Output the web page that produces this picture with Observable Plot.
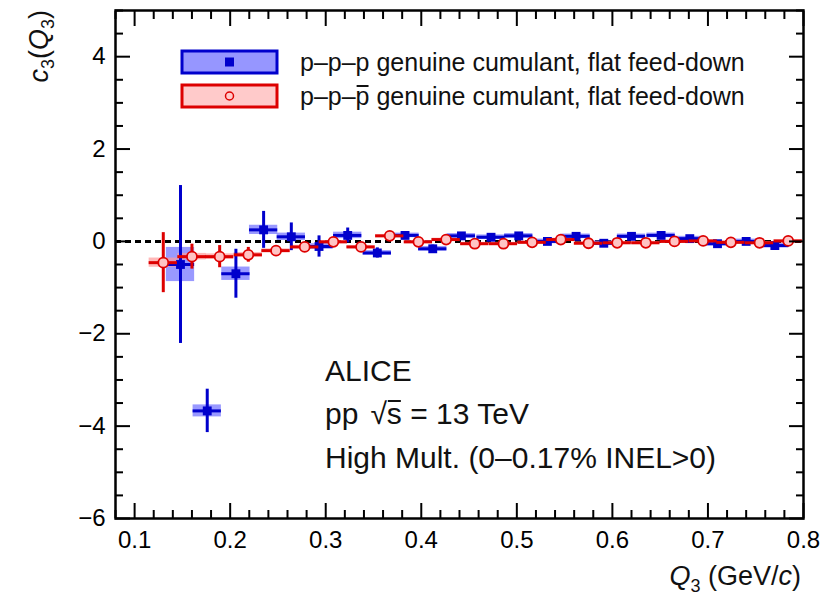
<!DOCTYPE html>
<html><head><meta charset="utf-8">
<script src="https://cdn.jsdelivr.net/npm/d3@7"></script>
<script src="https://cdn.jsdelivr.net/npm/@observablehq/plot@0.6"></script>
<style>
html,body{margin:0;padding:0;background:#fff;}
#chart{position:relative;width:825px;height:595px;}
</style></head><body><div id="chart"></div>
<script>
// ---- data ----
const qBlue = [0.148, 0.176, 0.206, 0.235, 0.264, 0.293, 0.323, 0.354, 0.383, 0.412, 0.442, 0.473, 0.502, 0.532, 0.562, 0.591, 0.620, 0.651, 0.681, 0.710, 0.740, 0.770];
const cBlue = [-0.50, -3.67, -0.70, 0.25, 0.10, -0.11, 0.13, -0.25, 0.13, -0.16, 0.12, 0.09, 0.12, 0.00, 0.11, -0.04, 0.11, 0.13, 0.06, -0.05, 0.00, -0.09];
const statBlue = [1.71, 0.47, 0.53, 0.40, 0.30, 0.23, 0.16, 0.11, 0.07, 0.08, 0.06, 0.05, 0.05, 0.05, 0.05, 0.05, 0.05, 0.05, 0.05, 0.04, 0.04, 0.04];
const sysBlue = [0.37, 0.13, 0.145, 0.10, 0.08, 0.06, 0.07, 0.05, 0.05, 0.05, 0.05, 0.05, 0.05, 0.05, 0.05, 0.05, 0.05, 0.05, 0.05, 0.05, 0.05, 0.05];

const qRed = [0.130, 0.160, 0.189, 0.219, 0.248, 0.278, 0.308, 0.337, 0.367, 0.397, 0.426, 0.456, 0.486, 0.516, 0.546, 0.575, 0.605, 0.635, 0.665, 0.695, 0.724, 0.754, 0.784];
const cRed = [-0.46, -0.33, -0.33, -0.29, -0.20, -0.12, -0.01, -0.12, 0.12, -0.01, 0.04, -0.05, -0.05, -0.02, 0.04, -0.04, -0.03, -0.03, 0.00, 0.01, -0.02, -0.03, 0.01];
const statRed = [0.65, 0.27, 0.24, 0.16, 0.10, 0.06, 0.05, 0.04, 0.04, 0.03, 0.03, 0.03, 0.03, 0.03, 0.03, 0.03, 0.03, 0.03, 0.03, 0.03, 0.03, 0.03, 0.03];
const sysRed = [0.10, 0.07, 0.06, 0.05, 0.04, 0.035, 0.03, 0.03, 0.03, 0.03, 0.03, 0.03, 0.03, 0.03, 0.03, 0.03, 0.03, 0.03, 0.03, 0.03, 0.03, 0.03, 0.03];
const binHalf = 0.0148;

const xTicks = [0.1, 0.2, 0.3, 0.4, 0.5, 0.6, 0.7, 0.8];
const yTicks = [-6, -4, -2, 0, 2, 4];
const legendLabels = ["p–p–p genuine cumulant, flat feed-down", "p–p–p̄ genuine cumulant, flat feed-down"];
const annotations = ["ALICE", "pp  √s = 13 TeV", "High Mult. (0–0.17% INEL>0)"];

const blue = qBlue.map((q, i) => ({q, c: cBlue[i], stat: statBlue[i], sys: sysBlue[i]}));
const red = qRed.map((q, i) => ({q, c: cRed[i], stat: statRed[i], sys: sysRed[i]}));

const BLUE = "#0000cc", RED = "#dd0000";
const xMinor = d3.range(0.08, 0.8001, 0.02).map(v => +v.toFixed(2)).filter(v => !xTicks.some(t => Math.abs(t - v) < 1e-6));
const yMinor = d3.range(-6, 5.001, 0.5).filter(v => !yTicks.includes(v));
const fmtY = d => d < 0 ? "\u2212" + (-d) : String(d);
const FONT = "Liberation Sans, Arial, Helvetica, sans-serif";

const none = () => "";
const svg = Plot.plot({
  width: 825, height: 595,
  marginLeft: 115, marginRight: 22, marginTop: 10, marginBottom: 77,
  x: {domain: [0.08, 0.8]},
  y: {domain: [-6, 5]},
  style: {fontFamily: FONT, fontSize: "24px", color: "black", background: "white"},
  marks: [
    Plot.ruleY([0], {stroke: "black", strokeWidth: 3, strokeDasharray: "6,4"}),
    Plot.rect(blue, {x1: d => d.q - binHalf, x2: d => d.q + binHalf, y1: d => d.c - d.sys, y2: d => d.c + d.sys, fill: "#8080ff", fillOpacity: 0.8}),
    Plot.rect(red, {x1: d => d.q - binHalf, x2: d => d.q + binHalf, y1: d => d.c - d.sys, y2: d => d.c + d.sys, fill: "#ff9a9a", fillOpacity: 0.7}),
    Plot.ruleX(blue, {x: "q", y1: d => d.c - d.stat, y2: d => d.c + d.stat, stroke: BLUE, strokeWidth: 3}),
    Plot.ruleY(blue, {y: "c", x1: d => d.q - binHalf, x2: d => d.q + binHalf, stroke: BLUE, strokeWidth: 3}),
    Plot.dot(blue, {x: "q", y: "c", symbol: "square", r: 5, fill: BLUE}),
    Plot.ruleX(red, {x: "q", y1: d => d.c - d.stat, y2: d => d.c + d.stat, stroke: RED, strokeWidth: 3}),
    Plot.ruleY(red, {y: "c", x1: d => d.q - binHalf, x2: d => d.q + binHalf, stroke: RED, strokeWidth: 3}),
    Plot.dot(red, {x: "q", y: "c", r: 5, stroke: RED, strokeWidth: 1.8, fill: "#ffc4c4"}),
    Plot.frame({stroke: "black", strokeWidth: 2.5}),
    Plot.axisX(xTicks, {anchor: "bottom", tickSize: -15, tickPadding: 27, strokeWidth: 2, tickFormat: d => d.toFixed(1), label: null, fontSize: 24}),
    Plot.axisX(xMinor, {anchor: "bottom", tickSize: -8, strokeWidth: 2, tickFormat: none, label: null}),
    Plot.axisX(xTicks, {anchor: "top", tickSize: -15, strokeWidth: 2, tickFormat: none, label: null}),
    Plot.axisX(xMinor, {anchor: "top", tickSize: -8, strokeWidth: 2, tickFormat: none, label: null}),
    Plot.axisY(yTicks, {anchor: "left", tickSize: -15, tickPadding: 25, strokeWidth: 2, tickFormat: fmtY, label: null, fontSize: 24}),
    Plot.axisY(yMinor, {anchor: "left", tickSize: -8, strokeWidth: 2, tickFormat: none, label: null}),
    Plot.axisY(yTicks, {anchor: "right", tickSize: -15, strokeWidth: 2, tickFormat: none, label: null}),
    Plot.axisY(yMinor, {anchor: "right", tickSize: -8, strokeWidth: 2, tickFormat: none, label: null})
  ]
});
document.getElementById("chart").appendChild(svg);

const s = d3.select(svg);
// draw a bar over character `idx` of a text node
function overbar(textSel, idx, yTop, extendRight = 0) {
  const node = textSel.node();
  const ext = node.getExtentOfChar(idx);
  textSel.select(function() { return this.parentNode; }).append("line")
    .attr("x1", ext.x + 1).attr("x2", ext.x + ext.width - 1 + extendRight)
    .attr("y1", yTop).attr("y2", yTop)
    .attr("stroke", "#111").attr("stroke-width", 2);
}

// Legend
const leg = s.append("g").attr("font-family", FONT).attr("font-size", 25).attr("text-anchor", "start");
const legStyles = [{fill: "#9696ff", stroke: BLUE}, {fill: "#ffcaca", stroke: RED}];
[62, 96].forEach((cy, i) => {
  leg.append("rect").attr("x", 182).attr("y", cy - 11).attr("width", 95).attr("height", 22)
    .attr("fill", legStyles[i].fill).attr("stroke", legStyles[i].stroke).attr("stroke-width", 3);
  if (i === 0) leg.append("rect").attr("x", 225).attr("y", cy - 4.5).attr("width", 9).attr("height", 9).attr("fill", BLUE);
  else leg.append("circle").attr("cx", 229.5).attr("cy", cy).attr("r", 4).attr("fill", "#ffcaca").attr("stroke", RED).attr("stroke-width", 1.5);
  const t = leg.append("text").attr("x", 300).attr("y", cy + 9).attr("fill", "#111");
  if (i === 0) t.text(legendLabels[0]);
  else {
    t.text("p–p–p genuine cumulant, flat feed-down");
    overbar(t, 4, cy + 9 - 19);
  }
});

// Annotations
const ann = s.append("g").attr("font-family", FONT).attr("font-size", 30).attr("fill", "#111").attr("text-anchor", "start");
ann.append("text").attr("x", 325).attr("y", 381).text(annotations[0]);
const t2 = ann.append("text").attr("x", 325).attr("y", 424);
t2.append("tspan").text("pp");
t2.append("tspan").attr("dx", 12).text("√");
t2.append("tspan").text("s");
t2.append("tspan").text(" = 13 TeV");
overbar(t2, 3, 424 - 23);
ann.append("text").attr("x", 325).attr("y", 468).text(annotations[2]);

// Axis titles
const yt = s.append("text").attr("transform", "translate(48,10) rotate(-90)").attr("text-anchor", "end")
  .attr("font-family", FONT).attr("font-size", 27).attr("fill", "#111");
yt.append("tspan").attr("font-style", "italic").text("c");
yt.append("tspan").attr("font-size", 18).attr("dy", 6).text("3");
yt.append("tspan").attr("dy", -6).text("(");
yt.append("tspan").attr("font-style", "italic").text("Q");
yt.append("tspan").attr("font-size", 18).attr("dy", 6).text("3");
yt.append("tspan").attr("dy", -6).text(")");

const xt = s.append("text").attr("x", 801).attr("y", 585).attr("text-anchor", "end")
  .attr("font-family", FONT).attr("font-size", 27).attr("fill", "#111");
xt.append("tspan").attr("font-style", "italic").text("Q");
xt.append("tspan").attr("font-size", 18).attr("dy", 7).text("3");
xt.append("tspan").attr("dy", -7).text(" (GeV/");
xt.append("tspan").attr("font-style", "italic").text("c");
xt.append("tspan").text(")");
</script>
</body></html>
